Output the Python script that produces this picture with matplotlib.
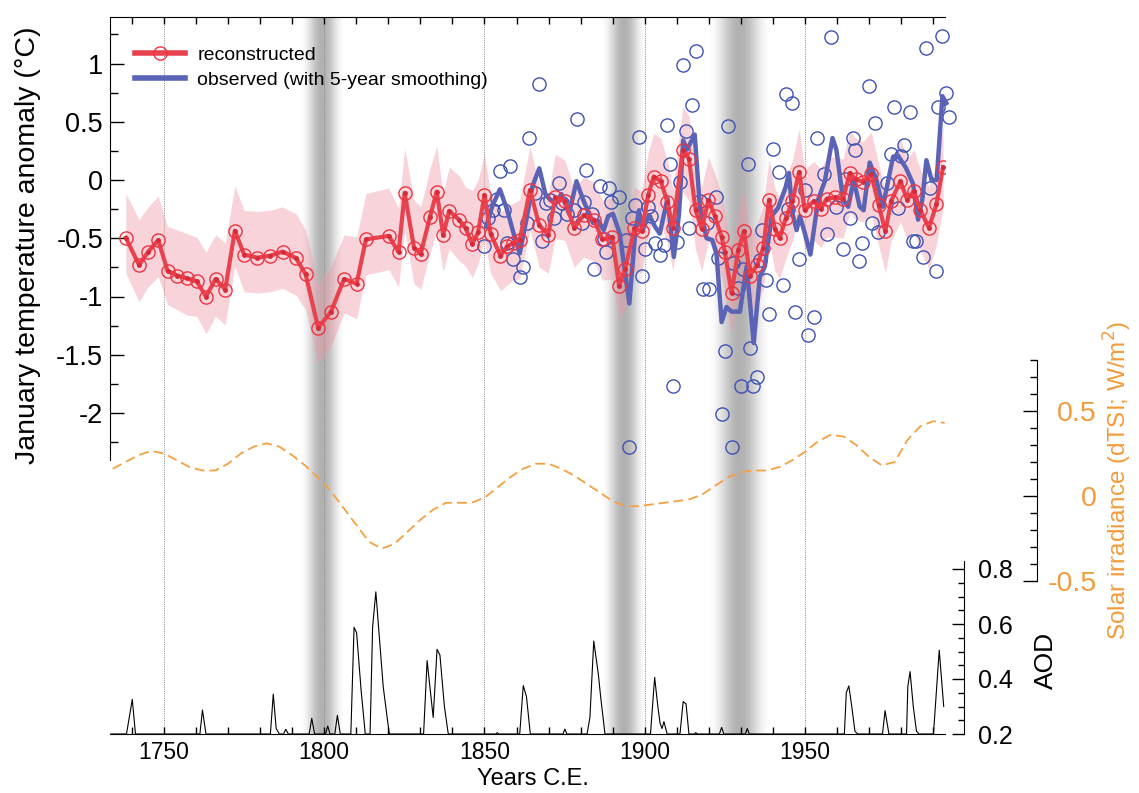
import numpy as np
import matplotlib
matplotlib.use('Agg')
import matplotlib.pyplot as plt
from matplotlib.lines import Line2D
from matplotlib.ticker import MultipleLocator, FuncFormatter, FixedLocator

plt.rcParams['font.family'] = ['Liberation Sans', 'DejaVu Sans']
plt.rcParams['axes.unicode_minus'] = False

# ---------------- data ----------------
recon_years = [1738.1, 1742.2, 1745.1, 1748.2, 1751.1, 1754.2, 1757.2, 1760.2, 1763.1, 1766.1,
               1769.1, 1772.1, 1775.0, 1779.1, 1783.1, 1787.0, 1791.2, 1794.2, 1798.1, 1802.1,
               1806.2, 1810.1, 1813.0, 1820.1, 1823.2, 1825.1, 1828.0, 1830.1, 1833.0, 1835.1,
               1837.1, 1839.0, 1842.0, 1844.1, 1846.2, 1848.0, 1850.0, 1851.9, 1855.0, 1857.1,
               1859.0, 1861.0, 1864.2, 1867.1, 1869.9, 1872.1, 1875.1, 1878.0, 1881.0, 1884.1,
               1886.8, 1889.9, 1892.0, 1893.9, 1896.8, 1899.0, 1901.1, 1902.8, 1905.0, 1907.1,
               1908.8, 1911.9, 1913.8, 1915.9, 1917.8, 1919.9, 1921.9, 1924.0, 1925.0, 1927.1,
               1929.2, 1931.0, 1932.8, 1935.1, 1937.0, 1938.8, 1940.6, 1942.1, 1944.0, 1946.1,
               1948.2, 1949.9, 1952.8, 1954.9, 1956.8, 1959.3, 1961.9, 1964.0, 1965.8, 1968.1,
               1970.7, 1973.0, 1975.1, 1976.9, 1979.8, 1981.9, 1984.0, 1986.0, 1988.7, 1991.0,
               1993.1]
recon_vals = [-0.495, -0.73, -0.615, -0.515, -0.78, -0.82, -0.845, -0.87, -1.00, -0.85,
              -0.94, -0.435, -0.64, -0.667, -0.65, -0.615, -0.67, -0.81, -1.27, -1.13,
              -0.85, -0.89, -0.51, -0.48, -0.62, -0.11, -0.58, -0.635, -0.315, -0.10,
              -0.47, -0.265, -0.34, -0.415, -0.55, -0.45, -0.13, -0.46, -0.65, -0.57,
              -0.54, -0.515, -0.086, -0.39, -0.47, -0.15, -0.18, -0.41, -0.30, -0.34,
              -0.51, -0.49, -0.91, -0.76, -0.415, -0.44, -0.13, 0.03, -0.01, -0.19,
              -0.415, 0.26, 0.18, -0.26, -0.42, -0.17, -0.31, -0.49, -0.62, -0.97,
              -0.60, -0.44, -0.82, -0.73, -0.58, -0.17, -0.42, -0.50, -0.33, -0.18,
              0.07, -0.26, -0.18, -0.25, -0.16, -0.15, -0.16, 0.06, 0.006, -0.015,
              0.05, -0.215, -0.44, -0.18, -0.01, -0.17, -0.094, -0.26, -0.41, -0.21,
              0.11]
recon_upper = [-0.115, -0.34, -0.23, -0.137, -0.40, -0.43, -0.46, -0.49, -0.62, -0.47,
               -0.54, -0.05, -0.26, -0.27, -0.26, -0.23, -0.29, -0.43, -0.89, -0.74,
               -0.47, -0.49, -0.115, -0.07, -0.24, 0.27, -0.17, -0.23, 0.10, 0.29,
               -0.115, 0.11, 0.04, -0.06, -0.09, 0.0, 0.23, -0.12, -0.28, -0.22,
               -0.20, -0.17, 0.29, -0.05, -0.12, 0.22, 0.17, -0.08, 0.03, -0.02,
               -0.17, -0.15, -0.55, -0.40, -0.06, -0.10, 0.24, 0.40, 0.36, 0.16,
               -0.08, 0.63, 0.55, 0.12, -0.06, 0.20, 0.05, -0.12, -0.27, -0.62,
               -0.25, -0.09, -0.47, -0.38, -0.22, 0.18, -0.07, -0.15, 0.02, 0.17,
               0.44, 0.09, 0.16, 0.10, 0.19, 0.20, 0.18, 0.42, 0.36, 0.33,
               0.41, 0.14, -0.10, 0.17, 0.36, 0.18, 0.26, 0.09, -0.06, 0.14,
               0.46]
recon_lower = [-0.80, -1.045, -0.915, -0.83, -1.07, -1.115, -1.16, -1.17, -1.32, -1.17,
               -1.245, -0.74, -0.96, -0.97, -0.96, -0.93, -0.99, -1.115, -1.57, -1.43,
               -1.14, -1.19, -0.815, -0.77, -0.92, -0.43, -0.89, -0.94, -0.63, -0.43,
               -0.79, -0.59, -0.69, -0.74, -0.84, -0.72, -0.515, -0.80, -0.95, -0.90,
               -0.86, -0.85, -0.43, -0.75, -0.80, -0.50, -0.52, -0.75, -0.66, -0.70,
               -0.86, -0.85, -1.20, -1.10, -0.78, -0.80, -0.48, -0.33, -0.37, -0.55,
               -0.78, -0.10, -0.18, -0.60, -0.78, -0.52, -0.66, -0.84, -0.98, -1.32,
               -0.96, -0.80, -1.17, -1.08, -0.93, -0.52, -0.78, -0.85, -0.68, -0.52,
               -0.28, -0.60, -0.52, -0.58, -0.49, -0.49, -0.50, -0.28, -0.34, -0.36,
               -0.30, -0.56, -0.80, -0.52, -0.36, -0.51, -0.44, -0.61, -0.76, -0.56,
               -0.24]

obs_years = [1850.0, 1851.2, 1852.7, 1854.0, 1855.0, 1856.1, 1856.9, 1857.9, 1859.0, 1861.0,
             1861.9, 1863.4, 1863.9, 1865.7, 1867.1, 1867.9, 1869.1, 1870.4, 1871.6, 1873.1,
             1874.3, 1875.8, 1877.9, 1878.9, 1880.3, 1881.0, 1881.8, 1883.4, 1884.1, 1886.0,
             1887.2, 1887.9, 1888.8, 1889.6, 1892.0, 1894.1, 1895.2, 1895.9, 1897.0, 1898.2,
             1899.0, 1900.0, 1901.1, 1901.9, 1903.2, 1904.9, 1906.1, 1907.0, 1907.9, 1908.9,
             1910.1, 1911.0, 1912.0, 1912.8, 1913.9, 1914.9, 1916.0, 1917.2, 1918.1, 1919.5,
             1920.0, 1922.1, 1923.0, 1924.0, 1925.0, 1926.0, 1927.1, 1927.6, 1929.2, 1929.9,
             1930.7, 1932.1, 1933.0, 1933.8, 1935.1, 1935.9, 1936.7, 1938.0, 1938.8, 1939.9,
             1941.9, 1943.0, 1944.0, 1944.7, 1946.0, 1946.9, 1948.0, 1950.1, 1951.0, 1952.8,
             1953.9, 1955.9, 1957.0, 1958.0, 1959.8, 1961.9, 1962.6, 1964.0, 1965.0, 1965.7,
             1966.9, 1967.9, 1969.9, 1970.9, 1971.9, 1972.8, 1975.7, 1976.7, 1977.9, 1979.0,
             1980.1, 1980.9, 1982.9, 1983.7, 1984.7, 1986.8, 1987.9, 1988.9, 1990.8, 1991.6,
             1992.9, 1993.9, 1995.0]
obs_vals = [-0.57, -0.33, -0.26, -0.16, 0.08, -0.26, -0.54, 0.12, -0.68, -0.83,
            -0.75, -0.37, 0.36, -0.11, 0.82, -0.52, -0.20, -0.17, -0.33, -0.03,
            -0.20, -0.29, -0.26, 0.52, -0.37, -0.19, 0.09, -0.29, -0.76, -0.05,
            -0.51, -0.62, -0.07, -0.19, -0.15, -0.515, -2.29, -0.33, -0.215, 0.37,
            -0.82, -0.595, -0.23, -0.31, -0.54, -0.64, -0.56, 0.47, 0.14, -1.77,
            -0.53, -0.02, 0.99, 0.42, -0.41, 0.64, 1.11, -0.18, -0.935, -0.37,
            -0.935, -0.15, -0.67, -2.01, -1.47, 0.465, -2.29, -0.715, -0.93, -1.77,
            -0.76, 0.14, -1.44, -1.77, -1.69, -0.69, -0.43, -0.86, -1.15, 0.27,
            0.07, -0.90, 0.74, -0.25, 0.66, -1.13, -0.68, -0.09, -1.33, -1.18,
            0.36, 0.05, -0.46, 1.23, -0.23, -0.595, 0.01, -0.33, 0.36, 0.26,
            -0.695, -0.54, 0.81, -0.37, 0.49, -0.45, -0.03, 0.22, 0.63, -0.24,
            0.21, 0.30, 0.58, -0.52, -0.52, -0.66, 1.13, -0.07, -0.78, 0.63,
            1.24, 0.75, 0.54]

smooth_years = [1850.5, 1852.5, 1854.8, 1857.0, 1859.0, 1861.0, 1863.0, 1865.0, 1867.1, 1869.0,
                1870.5, 1872.5, 1874.0, 1876.4, 1878.7, 1880.8, 1882.5, 1883.9, 1885.5, 1887.2,
                1888.6, 1890.1, 1892.2, 1895.2, 1897.0, 1898.2, 1899.3, 1901.4, 1903.2, 1904.7,
                1907.1, 1909.1, 1910.7, 1912.0, 1913.2, 1915.6, 1917.2, 1919.3, 1921.1, 1922.4,
                1924.0, 1925.5, 1927.1, 1929.7, 1931.8, 1934.0, 1935.9, 1937.5, 1939.6, 1941.6,
                1944.0, 1945.0, 1946.1, 1947.4, 1948.4, 1950.0, 1951.7, 1954.1, 1956.2, 1958.6,
                1959.8, 1961.9, 1963.5, 1965.2, 1967.1, 1968.3, 1970.2, 1972.3, 1974.3, 1977.5,
                1979.0, 1981.4, 1983.7, 1985.3, 1986.6, 1987.9, 1989.5, 1991.1, 1992.9, 1994.1]
smooth_vals = [-0.40, -0.22, -0.08, -0.25, -0.45, -0.63, -0.35, -0.05, 0.10, -0.12,
               -0.17, -0.19, -0.12, -0.29, -0.01, -0.17, -0.28, -0.37, -0.35, -0.43,
               -0.31, -0.29, -0.46, -1.06, -0.46, -0.26, -0.43, -0.30, -0.40, -0.46,
               -0.16, -0.66, -0.29, 0.34, 0.26, 0.39, -0.23, -0.50, -0.515, -0.63,
               -1.22, -1.09, -1.13, -1.13, -0.74, -1.40, -0.83, -0.74, -0.31, -0.24,
               -0.06, 0.06, -0.29, -0.43, -0.31, -0.46, -0.64, -0.17, -0.01, 0.36,
               0.26, -0.17, -0.23, 0.0, -0.23, -0.26, 0.15, 0.0, -0.23, 0.20,
               0.21, 0.11, -0.03, -0.34, -0.17, 0.17, 0.0, 0.0, 0.72, 0.66]

solar_years = [1734, 1738, 1742, 1746, 1750, 1754, 1758, 1762, 1766, 1770, 1774, 1778, 1782,
               1786, 1790, 1794, 1798, 1802, 1806, 1810, 1814, 1818, 1822, 1826, 1830, 1834,
               1838, 1842, 1846, 1850, 1854, 1858, 1862, 1866, 1870, 1874, 1878, 1882, 1886,
               1890, 1894, 1898, 1902, 1906, 1910, 1914, 1918, 1922, 1926, 1930, 1934, 1938,
               1942, 1946, 1950, 1954, 1958, 1962, 1966, 1970, 1974, 1978, 1982, 1986, 1990,
               1993.6]
solar_vals = [0.16, 0.20, 0.24, 0.265, 0.25, 0.21, 0.17, 0.15, 0.15, 0.19, 0.25, 0.29, 0.31,
              0.29, 0.24, 0.18, 0.11, 0.03, -0.07, -0.17, -0.27, -0.31, -0.28, -0.21, -0.14, -0.08,
              -0.04, -0.04, -0.04, -0.01, 0.05, 0.11, 0.16, 0.19, 0.19, 0.16, 0.12, 0.07, 0.02,
              -0.03, -0.06, -0.06, -0.05, -0.04, -0.03, -0.02, 0.01, 0.06, 0.11, 0.14, 0.15, 0.15,
              0.17, 0.21, 0.26, 0.32, 0.36, 0.35, 0.30, 0.23, 0.18, 0.20, 0.33, 0.41, 0.44,
              0.43]

aod_years = [1733.5, 1738.3, 1740.1, 1741.1, 1761.2, 1762.0, 1763.1, 1783.2, 1784.1, 1785.0,
             1786.0, 1787.3, 1788.0, 1788.8, 1795.3, 1796.1, 1797.0, 1800.4, 1801.1, 1801.8,
             1803.3, 1804.1, 1805.0, 1808.3, 1809.3, 1810.1, 1811.5, 1812.8, 1814.3, 1815.1,
             1816.1, 1818.4, 1820.3, 1831.0, 1832.1, 1834.0, 1835.2, 1836.1, 1837.5, 1838.7,
             1853.5, 1854.0, 1854.5, 1861.0, 1862.1, 1863.1, 1864.3, 1874.5, 1875.1, 1875.7,
             1882.0, 1882.9, 1884.1, 1885.5, 1886.3, 1887.6, 1901.8, 1903.1, 1904.1, 1904.8,
             1905.4, 1906.0, 1907.0, 1911.0, 1912.0, 1912.9, 1913.8, 1915.5, 1915.9, 1916.5,
             1923.3, 1924.0, 1924.7, 1931.4, 1932.0, 1932.6, 1962.3, 1962.9, 1963.7, 1964.6,
             1965.6, 1966.5, 1974.2, 1975.0, 1976.2, 1981.7, 1982.1, 1982.8, 1983.8, 1984.8,
             1985.6, 1990.1, 1991.9, 1993.3]
aod_vals = [0.2, 0.2, 0.326, 0.2, 0.2, 0.287, 0.2, 0.2, 0.345, 0.22,
            0.2, 0.2, 0.217, 0.2, 0.2, 0.257, 0.2, 0.2, 0.229, 0.2,
            0.2, 0.268, 0.2, 0.2, 0.588, 0.568, 0.36, 0.2, 0.2, 0.59,
            0.717, 0.372, 0.2, 0.2, 0.467, 0.26, 0.508, 0.487, 0.3, 0.2,
            0.2, 0.205, 0.2, 0.2, 0.376, 0.336, 0.2, 0.2, 0.218, 0.2,
            0.2, 0.26, 0.538, 0.42, 0.33, 0.2, 0.2, 0.406, 0.3, 0.239,
            0.22, 0.245, 0.2, 0.2, 0.318, 0.309, 0.2, 0.2, 0.205, 0.2,
            0.2, 0.224, 0.2, 0.2, 0.22, 0.2, 0.2, 0.35, 0.375, 0.3,
            0.21, 0.2, 0.2, 0.285, 0.2, 0.2, 0.372, 0.427, 0.3, 0.21,
            0.2, 0.2, 0.505, 0.30]

band_years = [1799.3, 1893.6, 1929.4]
band_half = [7.2, 7.4, 10.0]
grid_years = [1750, 1800, 1850, 1900, 1950]

temp_ticks = [-2, -1.5, -1, -0.5, 0, 0.5, 1]
solar_ticks = [-0.5, 0, 0.5]
aod_ticks = [0.2, 0.4, 0.6, 0.8]

legend_labels = ['reconstructed', 'observed (with 5-year smoothing)']

# ---------------- styling ----------------
RED = '#e9424f'
RED_C = '#ee3340'
BLUE = '#5a63b6'
BLUE_C = '#3e51b4'
ORANGE = '#f5a043'
ORANGE_T = '#f49a3a'

W, H = 1139, 793
fig = plt.figure(figsize=(W / 100, H / 100), dpi=100)


def rect(x0, y0, x1, y1):
    return [x0 / W, 1 - y1 / H, (x1 - x0) / W, (y1 - y0) / H]


XL = (1733.15, 1993.7)
X0, X1 = 110, 945

# background: shaded bands + dotted year lines
ax_bg = fig.add_axes(rect(X0, 17, X1, 734))
ax_bg.set_axis_off()
for c, hw in zip(band_years, band_half):
    t = np.linspace(-1, 1, 301)
    prof = np.cos(np.pi / 2 * t) ** 2.2
    img = np.zeros((1, t.size, 4))
    img[0, :, 3] = 0.31 * prof
    ax_bg.imshow(img, extent=[c - hw, c + hw, 0, 1], aspect='auto',
                 interpolation='bilinear', zorder=1)
for yr in grid_years:
    ax_bg.axvline(yr, color='#8a8a8a', lw=0.7, ls=(0, (1, 1.3)), zorder=2)
ax_bg.set_xlim(XL)
ax_bg.set_ylim(0, 1)

# solar irradiance axis
ax_sol = fig.add_axes(rect(X0, 360, X1, 581), facecolor='none')
ax_sol.plot(solar_years, solar_vals, color=ORANGE, lw=1.3, dashes=(5.5, 2.8))
ax_sol.set_xlim(XL)
ax_sol.set_ylim(-0.5, 0.8)
for s in ['left', 'top', 'bottom']:
    ax_sol.spines[s].set_visible(False)
ax_sol.spines['right'].set_position(('axes', (1037 - X0) / (X1 - X0)))
ax_sol.xaxis.set_visible(False)
ax_sol.yaxis.tick_right()
ax_sol.yaxis.set_major_locator(FixedLocator(solar_ticks))
ax_sol.yaxis.set_major_formatter(FuncFormatter(lambda v, p: '%g' % v))
ax_sol.yaxis.set_minor_locator(MultipleLocator(0.1))
ax_sol.tick_params(axis='y', which='major', direction='in', length=10, width=1,
                   labelcolor=ORANGE_T, labelsize=20.5, pad=43)
ax_sol.tick_params(axis='y', which='minor', direction='in', length=5, width=1)
plt.setp(ax_sol.get_yticklabels(), ha='right')

# AOD axis
ax_aod = fig.add_axes(rect(X0, 561, X1, 734), facecolor='none')
ax_aod.plot(aod_years, aod_vals, color='black', lw=0.8)
ax_aod.set_xlim(XL)
ax_aod.set_ylim(0.2, 0.2 + 173 / 275)
for s in ['left', 'top']:
    ax_aod.spines[s].set_visible(False)
ax_aod.spines['right'].set_position(('axes', (964 - X0) / (X1 - X0)))
ax_aod.yaxis.tick_right()
ax_aod.yaxis.set_major_locator(FixedLocator(aod_ticks))
ax_aod.yaxis.set_major_formatter(FuncFormatter(lambda v, p: '%.1f' % v))
ax_aod.yaxis.set_minor_locator(MultipleLocator(0.05))
ax_aod.tick_params(axis='y', which='major', direction='in', length=9, width=1,
                   labelsize=18, pad=10)
ax_aod.tick_params(axis='y', which='minor', direction='in', length=4.5, width=1)
ax_aod.xaxis.set_major_locator(MultipleLocator(50))
ax_aod.xaxis.set_minor_locator(MultipleLocator(10))
ax_aod.xaxis.set_major_formatter(FuncFormatter(lambda v, p: '%d' % v))
ax_aod.tick_params(axis='x', which='both', direction='in', length=5, width=1,
                   labelsize=16.5, pad=5)

# main temperature axis
ax = fig.add_axes(rect(X0, 17, X1, 460), facecolor='none')
ax.fill_between(recon_years, recon_lower, recon_upper, color='#ef9aa8', alpha=0.42,
                lw=0, zorder=1)
ax.plot(obs_years, obs_vals, 'o', ms=9.5, mfc='none', mec=BLUE_C, mew=1.0,
        clip_on=False, zorder=2)
ax.plot(smooth_years, smooth_vals, color=BLUE, lw=3.2, solid_joinstyle='round',
        clip_on=False, zorder=3)
ax.plot(recon_years, recon_vals, color=RED, lw=3.0, marker='o', ms=3.5,
        mfc='#d52b38', mec='none', solid_joinstyle='round', zorder=4)
ax.plot(recon_years, recon_vals, 'o', ms=9.5, mfc='none', mec=RED_C, mew=1.0, zorder=5)
ax.set_xlim(XL)
ax.set_ylim(-(460 - 180) / 116.5, (180 - 17) / 116.5)
ax.spines['right'].set_visible(False)
ax.spines['bottom'].set_visible(False)
ax.xaxis.tick_top()
ax.xaxis.set_major_locator(MultipleLocator(10))
ax.tick_params(axis='x', which='both', direction='in', length=5, width=1,
               labeltop=False, labelbottom=False)
ax.yaxis.set_major_locator(FixedLocator(temp_ticks))
ax.yaxis.set_major_formatter(FuncFormatter(lambda v, p: '%g' % v))
ax.yaxis.set_minor_locator(MultipleLocator(0.25))
ax.tick_params(axis='y', which='major', direction='in', length=10, width=1,
               labelsize=19.5, pad=5)
ax.tick_params(axis='y', which='minor', direction='in', length=5.5, width=1)

handles = [Line2D([], [], color=RED, lw=4, marker='o', ms=9.5, mfc='none', mec=RED_C, mew=1.0),
           Line2D([], [], color=BLUE, lw=4)]
ax.legend(handles, legend_labels, loc='upper left', bbox_to_anchor=(0.030, 0.933),
          frameon=False, fontsize=14, handlelength=2.55, handletextpad=0.65,
          labelspacing=0.36, borderaxespad=0, borderpad=0)

# axis titles
fig.text(28 / W, 1 - 245 / H, 'January temperature anomaly (°C)', rotation=90,
         ha='center', va='center', fontsize=20.5)
fig.text(533 / W, 1 - 779 / H, 'Years C.E.', ha='center', va='center', fontsize=17)
fig.text(1046 / W, 1 - 660 / H, 'AOD', rotation=90, ha='center', va='center', fontsize=19)
fig.text(1118 / W, 1 - 480 / H, 'Solar irradiance (dTSI; W/m$^2$)', rotation=90,
         ha='center', va='center', fontsize=17.5, color=ORANGE_T)

fig.savefig('out.png', dpi=100)
